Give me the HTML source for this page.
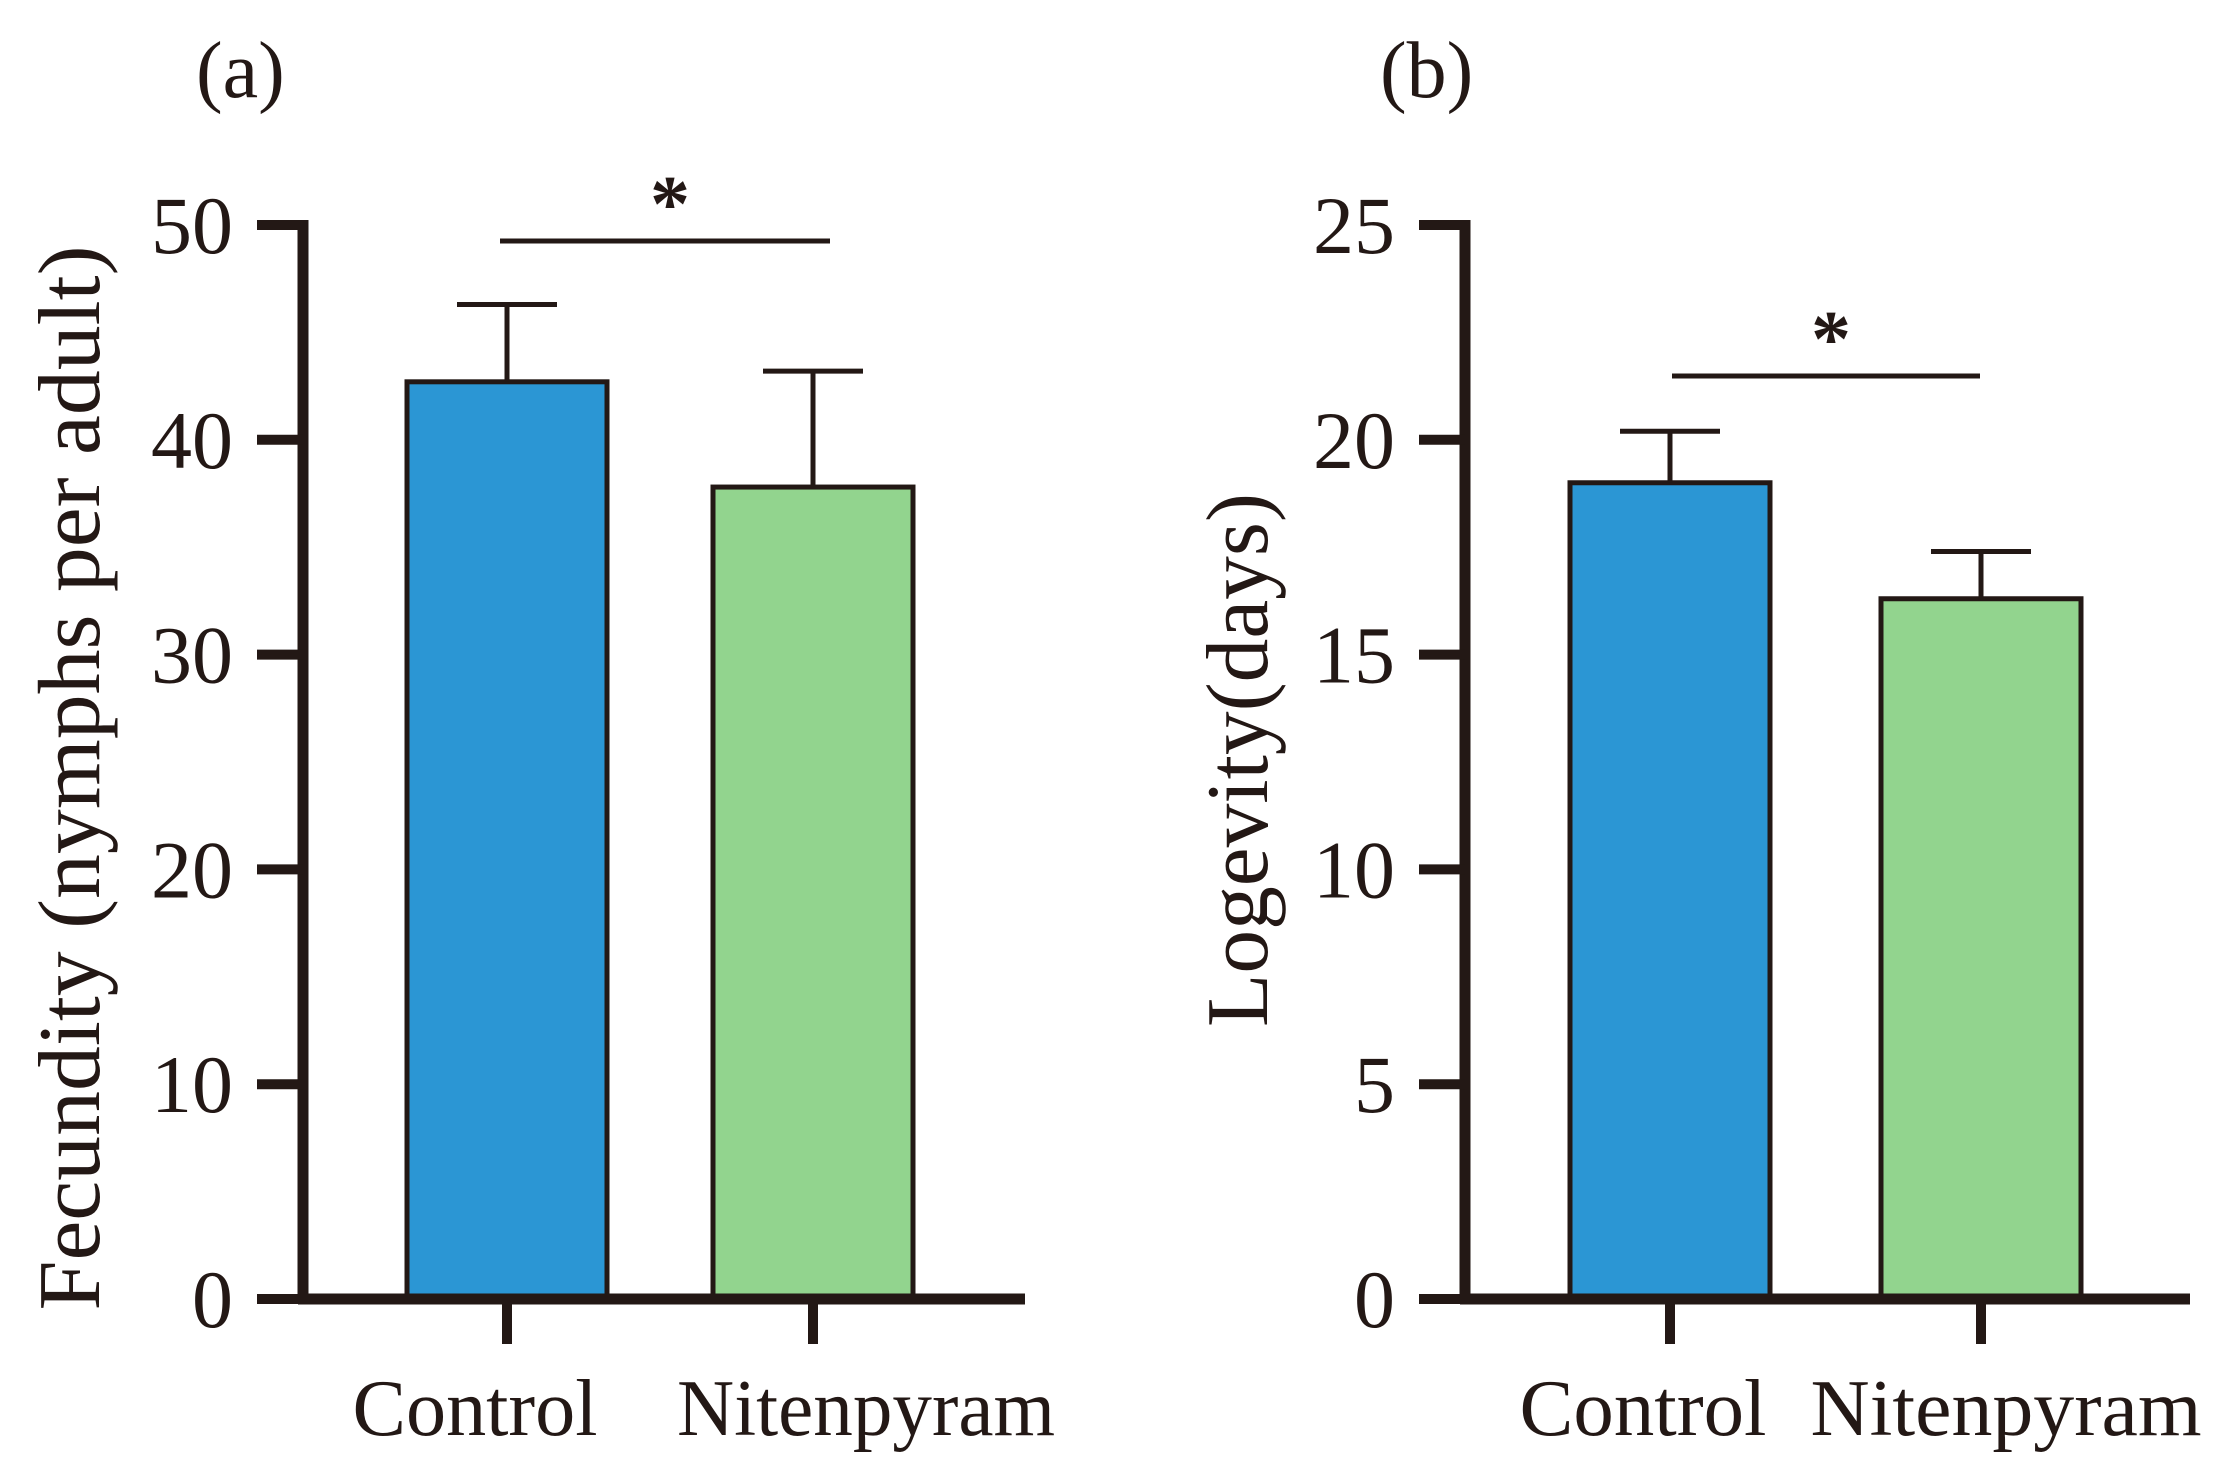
<!DOCTYPE html>
<html><head><meta charset="utf-8"><style>
html,body{margin:0;padding:0;background:#fff;}
svg{display:block;font-family:"Liberation Serif",serif;}
</style></head><body>
<svg id="fig" width="2238" height="1479" viewBox="0 0 2238 1479"></svg>
<script>
const categories = ["Control", "Nitenpyram"];
const fecundityMeans = [42.7, 37.8];
const fecundityErr = [3.6, 5.4];
const fecundityTicks = [0, 10, 20, 30, 40, 50];
const logevityMeans = [19.0, 16.3];
const logevityErr = [1.2, 1.1];
const logevityTicks = [0, 5, 10, 15, 20, 25];
const colors = ["#2b96d4", "#92d48e"];

const svg = document.getElementById('fig');
const NS = 'http://www.w3.org/2000/svg';
function mk(tag, attrs, parent, text) {
  const e = document.createElementNS(NS, tag);
  for (const k in attrs) e.setAttribute(k, attrs[k]);
  if (text !== undefined) e.textContent = text;
  (parent || svg).appendChild(e);
  return e;
}

function panel(cfg) {
  const g = mk('g', {});
  
  
  const y0 = 1299, yTop = 225;
  const ymax = cfg.ticks[cfg.ticks.length - 1];
  const yS = v => y0 - (v / ymax) * (y0 - yTop);
  const xS = i => cfg.catX[i];

  const lbl = mk('text', {x: cfg.labelX, y: 97, 'font-size': 80, fill: '#231815'}, g, cfg.label);
  
  

  cfg.means.forEach((m, i) => {
    const x = xS(i) - 100;
    const r = mk('rect', {x: x, y: yS(m), width: 200, height: y0 - yS(m), fill: colors[i], stroke: '#231815', 'stroke-width': 5}, g);
    
    
    const top = yS(m + cfg.err[i]);
    const el = mk('path', {d: `M${xS(i)} ${yS(m)} V${top} M${xS(i)-50} ${top} H${xS(i)+50}`, stroke: '#231815', 'stroke-width': 5, fill: 'none'}, g);
    
    
  });

  const ax = mk('path', {d: `M${cfg.axisX} ${yTop-5} V${y0} M${cfg.axisX-5} ${y0} H${cfg.xEnd}`, stroke: '#231815', 'stroke-width': 11, fill: 'none'}, g);
  
  

  cfg.ticks.forEach(t => {
    const tk = mk('line', {x1: cfg.axisX - 46, x2: cfg.axisX, y1: yS(t), y2: yS(t), stroke: '#231815', 'stroke-width': 10}, g);
    
    
    const tl = mk('text', {x: cfg.axisX - 70, y: yS(t) + 28, 'font-size': 82, 'text-anchor': 'end', fill: '#231815'}, g, String(t));
    
    
  });

  categories.forEach((c, i) => {
    const tk = mk('line', {x1: xS(i), x2: xS(i), y1: y0, y2: 1344, stroke: '#231815', 'stroke-width': 10}, g);
    
    
    const tl = mk('text', {x: cfg.catLabelX[i], y: 1435, 'font-size': 80, 'text-anchor': 'middle', fill: '#231815', textLength: cfg.catLabelW[i], lengthAdjust: 'spacingAndGlyphs'}, g, c);
    
    
  });

  const yt = mk('text', {x: 0, y: 0, 'font-size': 88, 'text-anchor': 'middle', fill: '#231815', textLength: cfg.titleLen, lengthAdjust: 'spacingAndGlyphs', transform: `translate(${cfg.titleX},${cfg.titleY}) rotate(-90)`}, g, cfg.title);
  
  

  const sl = mk('line', {x1: cfg.sig[0], x2: cfg.sig[1], y1: cfg.sig[2], y2: cfg.sig[2], stroke: '#231815', 'stroke-width': 5}, g);
  
  
  const st = mk('text', {x: (cfg.sig[0] + cfg.sig[1]) / 2 + 5, y: cfg.sig[2] - 10, 'font-size': 80, 'font-weight': 'bold', 'text-anchor': 'middle', fill: '#231815'}, g, '*');
  
  
}

panel({name: 'panel-a-fecundity', label: '(a)', labelX: 196, axisX: 303, xEnd: 1025,
  catX: [507, 813], ticks: fecundityTicks, means: fecundityMeans, err: fecundityErr,
  catLabelX: [475, 866], catLabelW: [245, 378],
  title: 'Fecundity (nymphs per adult)', titleX: 99, titleY: 778, titleLen: 1065,
  sig: [500, 830, 241]});
panel({name: 'panel-b-logevity', label: '(b)', labelX: 1380, axisX: 1465, xEnd: 2190,
  catX: [1670, 1981], ticks: logevityTicks, means: logevityMeans, err: logevityErr,
  catLabelX: [1643, 2006], catLabelW: [247, 391],
  title: 'Logevity(days)', titleX: 1267, titleY: 760, titleLen: 534,
  sig: [1672, 1980, 376]});
</script>
</body></html>
